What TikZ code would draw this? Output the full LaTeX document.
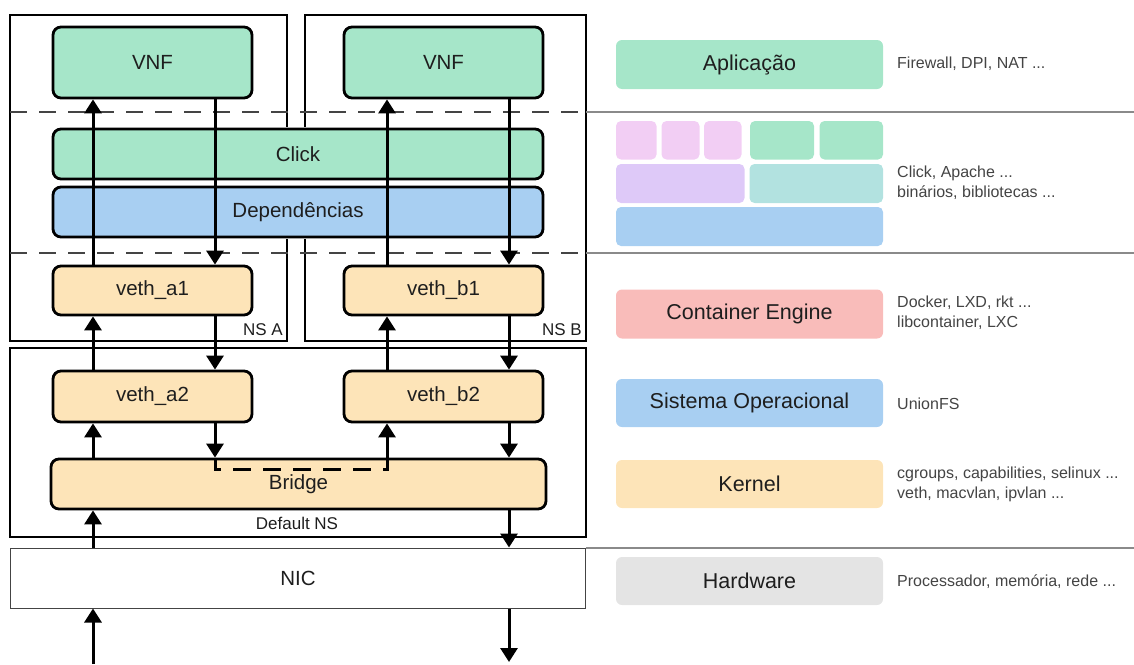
\documentclass[tikz,border=0pt]{standalone}
\usepackage{fontspec}
\setmainfont{Liberation Sans}
\usetikzlibrary{arrows.meta}
\definecolor{mint}{HTML}{A6E6C9}
\definecolor{sky}{HTML}{A8CFF2}
\definecolor{peach}{HTML}{FDE4B8}
\definecolor{rose}{HTML}{F9BCBA}
\definecolor{hwgray}{HTML}{E4E4E4}
\definecolor{lilac}{HTML}{F2CEF4}
\definecolor{violet}{HTML}{DEC9F8}
\definecolor{teal}{HTML}{B2E2E0}
\definecolor{sep}{HTML}{8A8A8A}
\definecolor{ink}{HTML}{1E1E1E}
\definecolor{note}{HTML}{444444}
\newcommand{\lblfont}{\fontsize{20.5}{24}\selectfont}
\newcommand{\bigfont}{\fontsize{21.5}{25}\selectfont}
\newcommand{\notefont}{\fontsize{16}{20}\selectfont}
\newcommand{\nsfont}{\fontsize{17}{20}\selectfont}
\tikzset{
  lbox/.style={draw=black, line width=2.8pt, rounded corners=8pt, inner sep=0pt,
    font=\lblfont, text=ink},
  frame/.style={draw=black, line width=2.5pt},
  rbox/.style={rounded corners=6pt, inner sep=0pt, minimum width=267, font=\bigfont, text=ink},
  arr/.style={line width=3pt, -{Triangle[width=17pt,length=14pt]}},
  layer/.style={draw=note, line width=1.6pt, dash pattern=on 17pt off 12pt},
  rule/.style={draw=sep, line width=1.5pt},
  notetext/.style={anchor=west, font=\notefont, text=note, align=left, inner sep=0pt},
  nslabel/.style={font=\nsfont, text=ink, inner sep=0pt}
}
\begin{document}
\begin{tikzpicture}[x=1pt, y=-1pt]
\useasboundingbox (0,0) rectangle (1134,664);

% namespace frames
\draw[frame] (10,15) rectangle (287,341);
\draw[frame] (305,15) rectangle (586,341);
\draw[frame] (10,348) rectangle (586,537);
\node[nslabel, anchor=east] (nsa) at (283,330) {NS A};
\node[nslabel, anchor=east] (nsb) at (582,330) {NS B};
\node[nslabel] (defns) at (297,523) {Default NS};

% shared user-space layers sit on a white band across both namespaces
\fill[white] (44,127) rectangle (552,239);

% layer separators
\draw[layer] (10,112) -- (586,112);
\draw[layer] (10,253) -- (586,253);
\draw[rule] (586,112) -- (1134,112);
\draw[rule] (586,253) -- (1134,253);
\draw[rule] (586,548) -- (1134,548);

% left stack
\node[lbox, fill=mint, minimum width=199, minimum height=71] (vnfa) at (152.5,62.5) {VNF};
\node[lbox, fill=mint, minimum width=199, minimum height=71] (vnfb) at (443.5,62.5) {VNF};
\node[lbox, fill=mint, minimum width=490, minimum height=50] (click) at (298,154) {Click};
\node[lbox, fill=sky, minimum width=490, minimum height=50] (dep) at (298,212) {Dependências};
\node[lbox, fill=peach, minimum width=199, minimum height=49] (vetha1) at (152.5,290.5) {veth\_a1};
\node[lbox, fill=peach, minimum width=199, minimum height=49] (vethb1) at (443.5,290.5) {veth\_b1};
\node[lbox, fill=peach, minimum width=199, minimum height=51] (vetha2) at (152.5,396.5) {veth\_a2};
\node[lbox, fill=peach, minimum width=199, minimum height=51] (vethb2) at (443.5,396.5) {veth\_b2};
\node[lbox, fill=peach, minimum width=495, minimum height=50] (bridge) at (298.5,484) {Bridge};
\node[draw=note, line width=1pt, fill=white, inner sep=0pt, minimum width=575, minimum height=60,
  font=\lblfont, text=ink] (nic) at (298,578) {NIC};

% arrow columns
\coordinate (xa) at (93,0);
\coordinate (xb) at (215,0);
\coordinate (xc) at (387,0);
\coordinate (xd) at (509,0);
\coordinate (wirein) at (93,664);
\coordinate (wireout) at (509,662);

% namespace A
\draw[arr] (vetha1.north -| xa) -- (vnfa.south -| xa);
\draw[arr] (vnfa.south -| xb) -- (vetha1.north -| xb);
\draw[arr] (vetha2.north -| xa) -- (vetha1.south -| xa);
\draw[arr] (vetha1.south -| xb) -- (vetha2.north -| xb);
\draw[arr] (bridge.north -| xa) -- (vetha2.south -| xa);
\draw[arr] (vetha2.south -| xb) -- (bridge.north -| xb);

% namespace B
\draw[arr] (vethb1.north -| xc) -- (vnfb.south -| xc);
\draw[arr] (vnfb.south -| xd) -- (vethb1.north -| xd);
\draw[arr] (vethb2.north -| xc) -- (vethb1.south -| xc);
\draw[arr] (vethb1.south -| xd) -- (vethb2.north -| xd);
\draw[arr] (bridge.north -| xc) -- (vethb2.south -| xc);
\draw[arr] (vethb2.south -| xd) -- (bridge.north -| xd);

% path through the bridge
\draw[line width=3pt, dash pattern=on 18pt off 12pt]
  (bridge.north -| xb) -- ++(0,12) -| (bridge.north -| xc);

% bridge <-> NIC <-> wire
\draw[arr] (nic.north -| xa) -- (bridge.south -| xa);
\draw[arr] (bridge.south -| xd) -- (nic.north -| xd);
\draw[arr] (wirein) -- (nic.south -| xa);
\draw[arr] (nic.south -| xd) -- (wireout);

% right-hand layer legend
\node[rbox, fill=mint, minimum height=49] (app) at (749.5,64.5) {Aplicação};
\node[notetext] (appnote) at (897,64) {Firewall, DPI, NAT ...};

\fill[lilac, rounded corners=5pt] (616,121) rectangle (656.5,159.5);
\fill[lilac, rounded corners=5pt] (661.5,121) rectangle (699.5,159.5);
\fill[lilac, rounded corners=5pt] (704,121) rectangle (741.5,159.5);
\fill[mint, rounded corners=5pt] (750,121) rectangle (814,159.5);
\fill[mint, rounded corners=5pt] (819.5,121) rectangle (883,159.5);
\fill[violet, rounded corners=5pt] (616,164) rectangle (744.5,203);
\fill[teal, rounded corners=5pt] (749.5,164) rectangle (883,203);
\fill[sky, rounded corners=5pt] (616,207) rectangle (883,246);
\node[notetext] (libnote) at (897,183) {Click, Apache ...\\binários, bibliotecas ...};

\node[rbox, fill=rose, minimum height=49] (engine) at (749.5,314) {Container Engine};
\node[notetext] (enginenote) at (897,313) {Docker, LXD, rkt ...\\libcontainer, LXC};

\node[rbox, fill=sky, minimum height=48] (os) at (749.5,403) {Sistema Operacional};
\node[notetext] (osnote) at (897,404) {UnionFS};

\node[rbox, fill=peach, minimum height=48] (kernel) at (749.5,484) {Kernel};
\node[notetext] (kernelnote) at (897,484) {cgroups, capabilities, selinux ...\\veth, macvlan, ipvlan ...};

\node[rbox, fill=hwgray, minimum height=48] (hw) at (749.5,581) {Hardware};
\node[notetext] (hwnote) at (897,582) {Processador, memória, rede ...};
\end{tikzpicture}
\end{document}
